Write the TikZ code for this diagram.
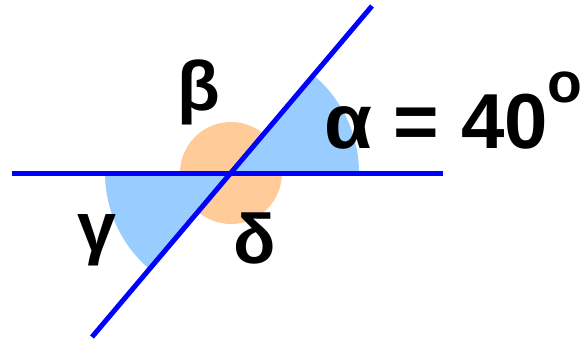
\documentclass[tikz,border=0pt]{standalone}
\usepackage{fontspec}
\setmainfont{Liberation Sans}
\usetikzlibrary{positioning}
\definecolor{lineblue}{HTML}{0000FF}
\definecolor{fillblue}{HTML}{99CCFF}
\definecolor{fillorange}{HTML}{FFCC99}

\begin{document}
\begin{tikzpicture}[
  x=1pt, y=1pt,
  font=\fontsize{70}{70}\selectfont\bfseries,
  lbl/.style={inner sep=0pt, text=black},
  ray/.style={draw=lineblue, line width=5pt},
  wedge/.style={fill=fillblue},
]
  \useasboundingbox (0,0) rectangle (582,341);

  % crossing point and line ends
  \coordinate (O) at (231,168);
  \coordinate (hl) at (12,168);
  \coordinate (hr) at (443,168);
  \coordinate (dl) at (92,4);
  \coordinate (dr) at (372,335);

  % angle marks
  \fill[fillorange] (O) circle (51);
  \path[wedge] (O) -- ++(0:128) arc (0:50:128) -- cycle;
  \path[wedge] (O) -- ++(180:126) arc (180:230:126) -- cycle;

  % the two lines
  \draw[ray] (hl) -- (hr);
  \draw[ray] (dl) -- (dr);

  % labels
  \node[lbl] (beta) at (199,249) {β};
  \node[lbl] (gamma) at (97,101) {γ};
  \node[lbl] (delta) at (255,103) {δ};
  \node[lbl, anchor=base west, font=\fontsize{78}{78}\selectfont\bfseries]
    (alpha) at (324,193)
    {α = 40\raisebox{46pt}{\fontsize{57}{57}\selectfont o}};
\end{tikzpicture}
\end{document}
